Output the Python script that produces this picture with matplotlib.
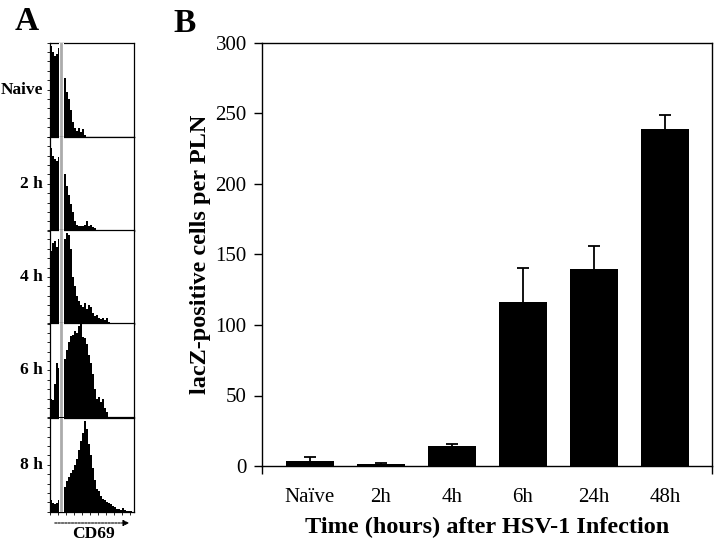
import matplotlib
matplotlib.use("Agg")
import matplotlib.pyplot as plt
import numpy as np

plt.rcParams['font.family'] = ['Liberation Serif', 'DejaVu Serif']

# Panel B data
categories = ['Naïve', '2h', '4h', '6h', '24h', '48h']
values = [3.4, 1.7, 14.2, 116.6, 139.7, 239.0]
errors = [2.8, 0.2, 1.2, 23.6, 16.6, 10.0]
yticks_b = [0, 50, 100, 150, 200, 250, 300]

# Panel A data (CD69 histograms, % of max, 2-px channels)
panel_labels = ['Naive', '2 h', '4 h', '6 h', '8 h']
hist_naive = [97, 90, 86, 88, 94, 92, 85, 62, 48, 40, 28, 16, 9, 6, 9, 5, 8, 2]
hist_2h = [88, 80, 76, 74, 78, 82, 86, 60, 48, 38, 28, 20, 10, 6, 5, 5, 5, 6, 10, 5, 6, 4, 3]
hist_4h = [78, 86, 88, 82, 90, 92, 95, 90, 97, 95, 80, 50, 40, 30, 24, 20, 18, 22, 16, 20,
           18, 12, 8, 10, 6, 5, 6, 4, 6, 2]
hist_6h = [20, 18, 35, 58, 52, 56, 58, 62, 72, 80, 86, 88, 92, 90, 97, 100, 85, 84, 78, 66,
           58, 46, 30, 20, 22, 16, 20, 10, 6]
hist_8h = [12, 9, 8, 9, 12, 8, 14, 26, 33, 37, 41, 44, 50, 56, 66, 75, 84, 97, 88, 72,
           60, 46, 34, 24, 22, 17, 14, 12, 10, 9, 8, 6, 5, 3, 3, 2, 4, 2, 1, 1, 1, 0]
hists = [hist_naive, hist_2h, hist_4h, hist_6h, hist_8h]
gate_channel = 5.5

W, H = 720, 547
fig = plt.figure(figsize=(W / 100, H / 100), dpi=100)

# ---------- Panel A ----------
tops = [42.7, 136.7, 230.0, 323.3, 417.7]
ph = 94.0
for i, (lab, h) in enumerate(zip(panel_labels, hists)):
    top = tops[i]
    ax = fig.add_axes([50 / W, 1 - (top + ph) / H, 84 / W, ph / H])
    edges = np.arange(len(h) + 1)
    ax.stairs(h, edges, fill=True, color='black', linewidth=0)
    ax.set_xlim(0, 42)
    ax.set_ylim(0, 100)
    ax.axvline(gate_channel, color='white', lw=3.6, zorder=3)
    ax.axvline(gate_channel, color='#ababab', lw=2.0, zorder=4)
    ax.set_yticks(np.arange(0, 101, 10))
    ax.set_yticklabels([])
    ax.tick_params(axis='y', length=2, width=0.6, direction='out')
    if i == 4:
        ax.set_xticks(np.arange(0, 43, 4))
        ax.set_xticklabels([])
        ax.tick_params(axis='x', length=2, width=0.6, direction='out')
    else:
        ax.set_xticks([])
    for s in ax.spines.values():
        s.set_linewidth(0.9)
    fig.text(43 / W, 1 - (top + ph / 2) / H, lab, ha='right', va='center',
             fontsize=12.5, fontweight='bold')

fig.text(27 / W, 1 - 22 / H, 'A', ha='center', va='center', fontsize=24, fontweight='bold')
fig.text(185 / W, 1 - 23 / H, 'B', ha='center', va='center', fontsize=24, fontweight='bold')

# CD69 arrow
fig.add_artist(matplotlib.patches.FancyArrowPatch(
    (52 / W, 1 - 523 / H), (132 / W, 1 - 523 / H), transform=fig.transFigure,
    arrowstyle='-|>', mutation_scale=9, color='black', lw=0.8, linestyle=(0, (2, 1))))
fig.text(93 / W, 1 - 534 / H, 'CD69', ha='center', va='center', fontsize=12.5, fontweight='bold')

# ---------- Panel B ----------
axb = fig.add_axes([262 / W, 1 - 466 / H, 450 / W, 423 / H])
x = np.arange(len(categories))
axb.bar(x, values, width=0.675, color='black', linewidth=0)
_, caps, _ = axb.errorbar(x, values, yerr=[np.zeros(len(errors)), errors], fmt='none',
                          ecolor='black', elinewidth=1.3, capsize=4, capthick=1.3)
caps[0].set_visible(False)
axb.set_xlim(-0.675, 5.66)
axb.set_ylim(0, 300)
axb.set_yticks(yticks_b)
axb.set_yticklabels([str(v) for v in yticks_b], fontsize=15)
axb.set_xticks(x)
axb.set_xticklabels(categories, fontsize=15)
axb.tick_params(axis='x', length=0, pad=16)
axb.tick_params(axis='y', length=6, width=1.0, direction='out', pad=5)
axb.set_xticks([-0.675, 5.66], minor=True)
axb.tick_params(axis='x', which='minor', length=6, width=1.0, direction='out')
for s in axb.spines.values():
    s.set_linewidth(1.0)
axb.set_ylabel('lacZ-positive cells per PLN', fontsize=17.5, fontweight='bold', labelpad=3)
axb.set_xlabel('Time (hours) after HSV-1 Infection', fontsize=17.5, fontweight='bold', labelpad=7)

fig.savefig('out.png', dpi=100)
